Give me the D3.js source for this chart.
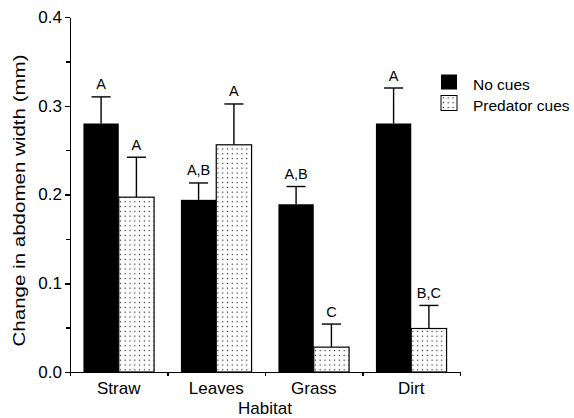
<meta charset="utf-8">
<script src="https://d3js.org/d3.v7.min.js"></script>

<style>
body { margin: 0; background: #fff; }
svg text { font-family: "Liberation Sans", Arial, sans-serif; fill: #000; }
.axis path, .axis line { stroke: #000; stroke-width: 1.5; shape-rendering: crispEdges; }
</style>

<div id="chart"></div>

<script>
// data
var habitats = ["Straw", "Leaves", "Grass", "Dirt"];
var groups = ["No cues", "Predator cues"];

var noCues = [0.280, 0.194, 0.189, 0.280];
var noCuesErr = [0.030, 0.019, 0.020, 0.040];
var noCuesLetters = ["A", "A,B", "A,B", "A"];

var predCues = [0.197, 0.256, 0.028, 0.049];
var predCuesErr = [0.045, 0.046, 0.026, 0.026];
var predCuesLetters = ["A", "A", "C", "B,C"];

var yTicks = [0, 0.1, 0.2, 0.3, 0.4];
var yMinorTicks = [0.05, 0.15, 0.25, 0.35];

// graph margins
var margin = {top: 17, right: 114, bottom: 46, left: 70};
var width = 574 - margin.left - margin.right;
var height = 418 - margin.top - margin.bottom;

var svg = d3.select("#chart").append("svg")
    .attr("width", 574)
    .attr("height", 418);

var defs = svg.append("defs");
// dotted fill for predator bars
var pat = defs.append("pattern")
    .attr("id", "dots")
    .attr("patternUnits", "userSpaceOnUse")
    .attr("width", 4.8)
    .attr("height", 4.8);
pat.append("rect").attr("width", 4.8).attr("height", 4.8).attr("fill", "#fff");
pat.append("rect").attr("x", 1.8).attr("y", 1.8).attr("width", 1.2).attr("height", 1.2).attr("fill", "#222");

var g = svg.append("g")
    .attr("transform", "translate(" + margin.left + "," + margin.top + ")");

// scales
var x0 = d3.scaleBand()
    .domain(habitats)
    .range([0, width])
    .padding(0);
var x1 = d3.scaleBand()
    .domain(groups)
    .range([0, x0.bandwidth()])
    .paddingInner(0)
    .paddingOuter(0.38);
var y = d3.scaleLinear()
    .domain([0, 0.4])
    .range([height, 0]);

var rows = habitats.map(function(h, i) {
    return {
        habitat: h,
        bars: [
            {group: groups[0], value: noCues[i], err: noCuesErr[i], letter: noCuesLetters[i]},
            {group: groups[1], value: predCues[i], err: predCuesErr[i], letter: predCuesLetters[i]}
        ]
    };
});

var fillFor = function(d) { return d.group == groups[0] ? "#000" : "url(#dots)"; };

var grp = g.selectAll(".habitat")
    .data(rows)
    .enter().append("g")
    .attr("class", "habitat")
    .attr("transform", function(d) { return "translate(" + x0(d.habitat) + ",0)"; });

// error bars (drawn first so the bar covers the lower end)
var capW = x1.bandwidth() * 0.54;
grp.selectAll(".err")
    .data(function(d) { return d.bars; })
    .enter().append("line")
    .attr("x1", function(d) { return x1(d.group) + x1.bandwidth() / 2; })
    .attr("x2", function(d) { return x1(d.group) + x1.bandwidth() / 2; })
    .attr("y1", function(d) { return y(d.value); })
    .attr("y2", function(d) { return y(d.value + d.err); })
    .attr("stroke", "#000")
    .attr("stroke-width", 1.4);
grp.selectAll(".cap")
    .data(function(d) { return d.bars; })
    .enter().append("line")
    .attr("x1", function(d) { return x1(d.group) + x1.bandwidth() / 2 - capW / 2; })
    .attr("x2", function(d) { return x1(d.group) + x1.bandwidth() / 2 + capW / 2; })
    .attr("y1", function(d) { return y(d.value + d.err); })
    .attr("y2", function(d) { return y(d.value + d.err); })
    .attr("stroke", "#000")
    .attr("stroke-width", 1.4);

// bars
grp.selectAll(".bar")
    .data(function(d) { return d.bars; })
    .enter().append("rect")
    .attr("class", "bar")
    .attr("x", function(d) { return x1(d.group); })
    .attr("y", function(d) { return y(d.value); })
    .attr("width", x1.bandwidth())
    .attr("height", function(d) { return height - y(d.value); })
    .attr("fill", fillFor)
    .attr("stroke", "#000")
    .attr("stroke-width", function(d) { return d.group == groups[0] ? 0 : 1.2; });

// significance letters
grp.selectAll(".letter")
    .data(function(d) { return d.bars; })
    .enter().append("text")
    .attr("x", function(d) { return x1(d.group) + x1.bandwidth() / 2; })
    .attr("y", function(d) { return y(d.value + d.err) - 7.5; })
    .attr("text-anchor", "middle")
    .attr("font-size", "14.5px")
    .text(function(d) { return d.letter; });

// y axis, major and minor ticks
g.append("g")
    .attr("class", "axis")
    .call(d3.axisLeft(y).tickValues(yMinorTicks).tickSize(4).tickSizeOuter(0).tickFormat(""));
var yAxisG = g.append("g")
    .attr("class", "axis")
    .call(d3.axisLeft(y).tickValues(yTicks).tickSize(5).tickSizeOuter(0).tickPadding(3).tickFormat(d3.format(".1f")));
yAxisG.selectAll("text").attr("font-size", "17px");

// x axis: labels in the middle, ticks on the band edges
var xAxisG = g.append("g")
    .attr("class", "axis")
    .attr("transform", "translate(0," + height + ")")
    .call(d3.axisBottom(x0).tickSize(0).tickSizeOuter(0).tickPadding(10));
xAxisG.selectAll("text").attr("font-size", "17px");
var xEdges = d3.scaleLinear().domain([0, habitats.length]).range([0, width]);
g.append("g")
    .attr("class", "axis")
    .attr("transform", "translate(0," + height + ")")
    .call(d3.axisBottom(xEdges).tickValues(d3.range(habitats.length + 1)).tickSize(4).tickSizeOuter(0).tickFormat(""))
    .select(".domain").remove();

// axis titles
g.append("text")
    .attr("x", width / 2)
    .attr("y", height + 42)
    .attr("text-anchor", "middle")
    .attr("font-size", "17px")
    .text("Habitat");
g.append("text")
    .attr("transform", "rotate(-90)")
    .attr("x", -(height / 2) - 6)
    .attr("y", -margin.left + 24.5)
    .attr("text-anchor", "middle")
    .attr("font-size", "16px")
    .attr("textLength", 292)
    .attr("lengthAdjust", "spacingAndGlyphs")
    .text("Change in abdomen width (mm)");

// legend
var legend = svg.append("g")
    .attr("transform", "translate(441,74.5)");
var item = legend.selectAll(".item")
    .data(groups)
    .enter().append("g")
    .attr("transform", function(d, i) { return "translate(0," + (i * 21) + ")"; });
item.append("rect")
    .attr("width", 16)
    .attr("height", 15)
    .attr("fill", function(d) { return fillFor({group: d}); })
    .attr("stroke", "#000")
    .attr("stroke-width", function(d, i) { return i ? 1 : 0; });
item.append("text")
    .attr("x", 32)
    .attr("y", 15.5)
    .attr("font-size", "15.5px")
    .text(function(d) { return d; });
</script>
